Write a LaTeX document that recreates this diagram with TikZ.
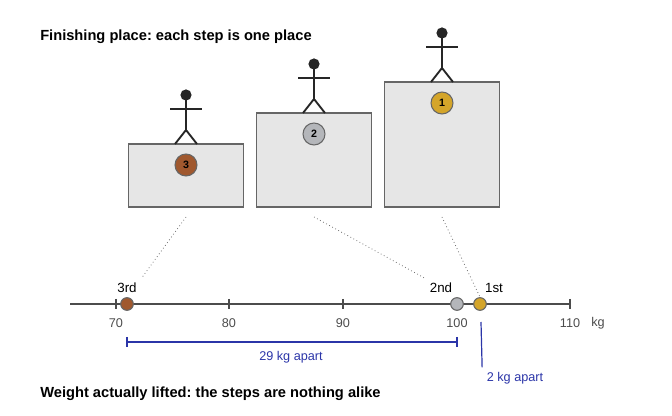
\documentclass[tikz,border=0pt]{standalone}
\usepackage{fontspec}
\setmainfont{Liberation Sans}
\usetikzlibrary{positioning}
\definecolor{gold}{HTML}{D4A52A}
\definecolor{silver}{HTML}{B4B6BA}
\definecolor{bronze}{HTML}{A0582E}
\definecolor{stepfill}{HTML}{E6E6E6}
\definecolor{stepline}{HTML}{666666}
\definecolor{bluey}{HTML}{2B35A8}
\tikzset{
  podium/.style={draw=stepline, fill=stepfill, line width=1pt},
  medal/.style={draw=stepline, circle, line width=0.8pt, minimum size=16.5pt, inner sep=0pt, font=\fontsize{8}{8}\selectfont\bfseries},
  dot/.style={draw=stepline, circle, line width=0.8pt, minimum size=9.5pt, inner sep=0pt},
  stick/.style={line width=1.4pt, draw=black!85},
  guide/.style={dotted, draw=black!55, line width=0.6pt},
  tick/.style={font=\fontsize{9.5}{9.5}\selectfont, text=black!70},
  place/.style={font=\fontsize{10}{10}\selectfont},
  blue/.style={draw=bluey, line width=0.9pt},
  bluetxt/.style={text=bluey, font=\fontsize{9.5}{9.5}\selectfont},
  title/.style={font=\fontsize{11}{11}\selectfont\bfseries, anchor=west, inner sep=0pt}
}
\frenchspacing
\begin{document}
\begin{tikzpicture}[x=0.75pt,y=-0.75pt]
\useasboundingbox (0,0) rectangle (672,416);
\node[title] (t1) at (40,37) {Finishing place: each step is one place};
\node[title] (t2) at (40,394) {Weight actually lifted: the steps are nothing alike};
% podium steps
\foreach \name/\cx/\top/\col/\n in {s3/186/144/bronze/3, s2/314/113/silver/2, s1/442/82/gold/1}{
  \draw[podium] (\cx-57.5,\top) rectangle (\cx+57.5,207);
  \coordinate (\name b) at (\cx,217);
  \node[medal, fill=\col] (\name m) at (\cx,\top+21) {\n};
  \fill[black!85] (\cx,\top-49) circle (4.2pt);
  \draw[stick] (\cx,\top-44) -- (\cx,\top-14) -- (\cx-11,\top) (\cx,\top-14) -- (\cx+11,\top);
  \draw[stick] (\cx-16,\top-35) -- (\cx+16,\top-35);
}
% weight axis
\coordinate (a0) at (70,304);
\coordinate (a1) at (570,304);
\draw[draw=black!70, line width=1.1pt] (a0) -- (a1);
\foreach \k/\x in {70/116, 80/229, 90/343, 100/457, 110/570}{
  \draw[draw=black!70, line width=0.9pt] (\x,299) -- (\x,309);
  \node[tick] (k\k) at (\x,323) {\k};
}
\node[tick] (kg) at (598,323) {kg};
\node[dot, fill=bronze] (d3) at (127,304) {};
\node[dot, fill=silver] (d2) at (457,304) {};
\node[dot, fill=gold] (d1) at (480,304) {};
\node[place] (p3) at (127,288) {3rd};
\node[place] (p2) at (441,288) {2nd};
\node[place] (p1) at (494,288) {1st};
\draw[guide] (s3b) -- (p3.north east);
\draw[guide] (s2b) -- (p2.north west);
\draw[guide] (s1b) -- (d1.north);
% gaps
\coordinate (g3) at (127,342);
\coordinate (g2) at (457,342);
\draw[blue] (g3) -- (g2);
\draw[blue] (127,337) -- (127,347) (457,337) -- (457,347);
\node[bluetxt] (gap29) at (291,357) {29 kg apart};
\coordinate (g1) at (481,322);
\node[bluetxt] (gap2) at (515,378) {2 kg apart};
\draw[blue] (g1) -- (gap2.north west);
\end{tikzpicture}
\end{document}
